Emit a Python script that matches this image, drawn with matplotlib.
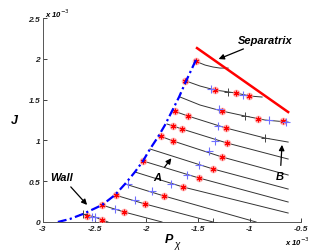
import matplotlib
matplotlib.use('Agg')
from matplotlib import pyplot as plt

# all values in units of 1e-3
wall_p = [-2.855, -2.738, -2.612, -2.428, -2.302, -2.205, -2.109, -2.031, -1.963,
          -1.886, -1.818, -1.750, -1.682, -1.614, -1.517]
wall_j = [0.0, 0.037, 0.098, 0.208, 0.331, 0.466, 0.613, 0.748, 0.895,
          1.042, 1.189, 1.360, 1.532, 1.728, 1.99]

sep_p = [-1.508, -0.626]
sep_j = [2.132, 1.348]

curves_p = [
    [-1.527, -1.430, -1.353, -1.285, -1.207],
    [-1.614, -1.479, -1.333, -1.130, -0.994, -0.878],
    [-1.672, -1.479, -1.266, -1.043, -0.849, -0.626],
    [-1.731, -1.595, -1.227, -0.849, -0.626],
    [-1.798, -1.653, -1.217, -0.626],
    [-1.866, -1.740, -1.266, -0.626],
    [-1.963, -1.353, -0.626],
    [-2.031, -1.488, -0.626],
    [-2.109, -1.643, -0.626],
    [-2.205, -1.828, -0.936],
    [-2.302, -2.012, -1.353],
    [-2.428, -2.215, -1.847],
    [-2.612, -2.496, -2.428, -2.370],
]
curves_j = [
    [1.973, 1.924, 1.900, 1.887, 1.887],
    [1.728, 1.667, 1.618, 1.581, 1.544, 1.532],
    [1.532, 1.434, 1.360, 1.299, 1.250, 1.225],
    [1.360, 1.299, 1.152, 1.029, 0.980],
    [1.201, 1.140, 0.968, 0.772],
    [1.054, 0.993, 0.797, 0.576],
    [0.895, 0.650, 0.404],
    [0.748, 0.539, 0.245],
    [0.613, 0.429, 0.110],
    [0.466, 0.319, 0.0],
    [0.331, 0.221, 0.0],
    [0.208, 0.123, 0.0],
    [0.098, 0.061, 0.025, 0.0],
]

red_p = [-1.517, -1.624, -1.333, -1.130, -1.004, -1.266, -0.917, -0.674,
         -1.721, -1.595, -1.227, -1.740, -1.653, -1.217, -1.857, -1.740, -1.266,
         -1.353, -2.031, -1.488, -1.643, -1.828, -2.292, -2.012, -2.428, -2.215,
         -2.574, -2.428]
red_j = [1.973, 1.728, 1.618, 1.581, 1.544, 1.360, 1.262, 1.238,
         1.360, 1.299, 1.152, 1.176, 1.140, 0.968, 1.054, 0.993, 0.797,
         0.650, 0.748, 0.539, 0.429, 0.319, 0.331, 0.221, 0.208, 0.123,
         0.074, 0.025]

blue_p = [-1.372, -1.062, -1.295, -0.810, -0.645, -1.304, -1.333, -1.391, -1.488,
          -1.605, -1.760, -1.944, -2.176, -2.109, -2.302, -2.525, -2.496]
blue_j = [1.630, 1.556, 1.385, 1.250, 1.225, 1.176, 0.993, 0.870, 0.699,
          0.576, 0.466, 0.380, 0.466, 0.270, 0.159, 0.061, 0.061]

black_p = [-1.207, -1.043, -0.849, -2.612, -1.353]
black_j = [1.593, 1.299, 1.029, 0.098, 0.0]

xticks = [-3, -2.5, -2, -1.5, -1, -0.5]
yticks = [0, 0.5, 1, 1.5, 2, 2.5]

plt.rcParams['font.family'] = ['Liberation Sans', 'DejaVu Sans']

fig = plt.figure(figsize=(3.35, 2.53), dpi=100)
ax = fig.add_axes([0.128, 0.1186, 0.771, 0.806])

for cp, cj in zip(curves_p, curves_j):
    ax.plot(cp, cj, '-', color='#333333', lw=0.7, zorder=2)

# red asterisks with a soft pink halo
ax.plot(red_p, red_j, 'o', color='#ff9999', mec='none', ms=5.5, alpha=0.7, ls='none', zorder=3)
ax.plot(red_p, red_j, marker=(6, 2, 0), color='red', ms=4, mew=0.8, ls='none', zorder=4)
ax.plot(blue_p, blue_j, '+', color='#7070ff', ms=6, mew=0.8, ls='none', zorder=4)
ax.plot(black_p, black_j, '+', color='#444444', ms=6, mew=0.7, ls='none', zorder=4)

ax.plot(wall_p, wall_j, '-.', color='blue', lw=1.6, dashes=(4, 1.5, 1, 1.5), zorder=5)
ax.plot(sep_p, sep_j, '-', color='red', lw=1.8, zorder=5)

bi = dict(fontweight='bold', fontstyle='italic')
arr = dict(arrowstyle='-|>', color='black', lw=0.9, mutation_scale=8)
ax.annotate('Separatrix', xy=(-1.324, 1.985), xytext=(-0.849, 2.23),
            ha='center', va='center', fontsize=8, arrowprops=arr, **bi)
ax.annotate('Wall', xy=(-2.554, 0.184), xytext=(-2.816, 0.551),
            ha='center', va='center', fontsize=8, arrowprops=arr, **bi)
ax.annotate('A', xy=(-1.740, 0.809), xytext=(-1.895, 0.551),
            ha='center', va='center', fontsize=8, arrowprops=arr, **bi)
ax.annotate('B', xy=(-0.684, 0.980), xytext=(-0.703, 0.564),
            ha='center', va='center', fontsize=8, arrowprops=arr, **bi)

ax.set_xlim(-3, -0.5)
ax.set_ylim(0, 2.5)
ax.set_xticks(xticks)
ax.set_yticks(yticks)
ax.set_xticklabels(['%g' % t for t in xticks])
ax.set_yticklabels(['%g' % t for t in yticks])
for lab in ax.get_xticklabels() + ax.get_yticklabels():
    lab.set_fontsize(6)
    lab.set_fontweight('bold')
    lab.set_fontstyle('italic')
ax.tick_params(direction='in', length=3, width=0.6, pad=2, colors='#222222')
ax.spines['top'].set_visible(False)
ax.spines['right'].set_visible(False)
for s in ['left', 'bottom']:
    ax.spines[s].set_color('#555555')
    ax.spines[s].set_linewidth(0.7)

ax.set_ylabel('J', rotation=0, fontsize=9, labelpad=10, va='center', **bi)
ax.set_xlabel('P', fontsize=9, **bi)
ax.xaxis.set_label_coords(0.49, -0.055)
fig.text(0.522, 0.03, 'χ', fontsize=7, ha='left', va='center', fontstyle='italic')

fig.text(0.135, 0.945, r'x 10$^{-3}$', fontsize=5.5, fontstyle='italic', fontweight='bold', va='center')
fig.text(0.85, 0.045, r'x 10$^{-3}$', fontsize=5.5, fontstyle='italic', fontweight='bold', va='center')

plt.savefig('out.png', dpi=100)
